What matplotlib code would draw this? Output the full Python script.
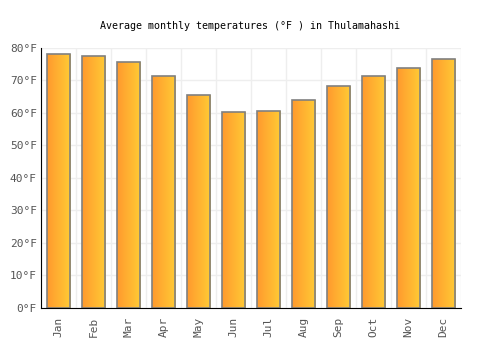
import matplotlib
matplotlib.use("Agg")
import matplotlib.pyplot as plt
import numpy as np
from matplotlib.colors import LinearSegmentedColormap

months = ["Jan", "Feb", "Mar", "Apr", "May", "Jun", "Jul", "Aug", "Sep", "Oct", "Nov", "Dec"]
temps_f = [78.1, 77.4, 75.7, 71.4, 65.5, 60.3, 60.6, 63.9, 68.2, 71.3, 73.8, 76.5]
yticks = [0, 10, 20, 30, 40, 50, 60, 70, 80]

plt.rcParams['font.family'] = ['DejaVu Sans Mono']
fig = plt.figure(figsize=(5, 3.5), dpi=100)
ax = fig.add_axes([0.082, 0.12, 0.84, 0.743])

x = np.arange(len(months))
bars = ax.bar(x, temps_f, width=0.66, color='none', edgecolor='#808080', linewidth=1.2, zorder=3)

grad = np.linspace(0, 1, 64).reshape(1, -1)
cmap = LinearSegmentedColormap.from_list('og', ['#FF9A2E', '#FFCB35'])
for b in bars:
    x0, y0 = b.get_x(), b.get_y()
    w, h = b.get_width(), b.get_height()
    im = ax.imshow(grad, cmap=cmap, aspect='auto', extent=[x0, x0 + w, y0, y0 + h], zorder=2)
    im.set_clip_path(b)

ax.set_xlim(-0.5, len(months) - 0.5)
ax.set_ylim(0, 80)
ax.set_yticks(yticks)
ax.set_yticklabels([f"{v}°F" for v in yticks])
ax.set_xticks(x)
ax.set_xticklabels(months, rotation=90)
ax.set_xticks(np.arange(-0.5, len(months), 1), minor=True)
ax.tick_params(axis='both', which='both', length=0, colors='#555555', labelsize=8)
ax.tick_params(axis='x', pad=6)
ax.tick_params(axis='y', pad=3)

ax.grid(True, which='minor', axis='x', color='#eeeeee', linewidth=1, zorder=0)
ax.grid(True, which='major', axis='y', color='#eeeeee', linewidth=1, zorder=0)
ax.grid(False, which='major', axis='x')
ax.set_axisbelow(True)

for s in ['top', 'right']:
    ax.spines[s].set_visible(False)
ax.spines['left'].set_color('black')
ax.spines['bottom'].set_color('black')
ax.spines['left'].set_zorder(4)
ax.spines['bottom'].set_zorder(4)

fig.text(0.5, 0.927, "Average monthly temperatures (°F ) in Thulamahashi", ha='center', va='center', fontsize=7.2, color='black')

fig.savefig("out.png", dpi=100)
